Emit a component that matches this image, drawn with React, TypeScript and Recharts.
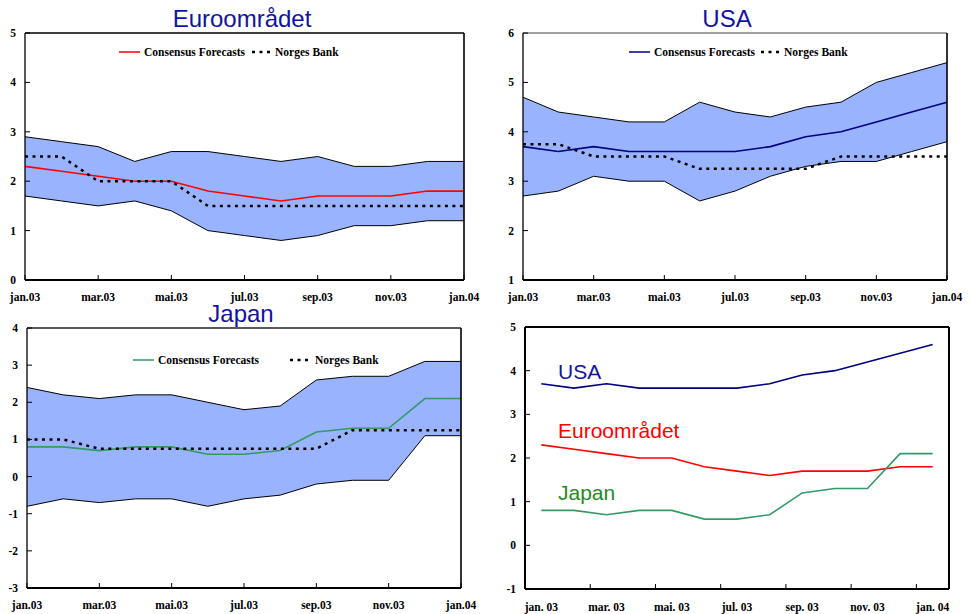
import React from 'react';
import { ComposedChart, Line, Area, XAxis, YAxis, ReferenceLine, Legend } from 'recharts';

// ---------- data ----------
const monthLabels = ['jan.03', 'feb.03', 'mar.03', 'apr.03', 'mai.03', 'jun.03', 'jul.03', 'aug.03', 'sep.03', 'okt.03', 'nov.03', 'des.03', 'jan.04'];
const monthLabelsSpaced = ['jan. 03', 'feb. 03', 'mar. 03', 'apr. 03', 'mai. 03', 'jun. 03', 'jul. 03', 'aug. 03', 'sep. 03', 'okt. 03', 'nov. 03', 'des. 03', 'jan. 04'];

const euroConsensus = [2.3, 2.2, 2.1, 2.0, 2.0, 1.8, 1.7, 1.6, 1.7, 1.7, 1.7, 1.8, 1.8];
const euroHigh = [2.9, 2.8, 2.7, 2.4, 2.6, 2.6, 2.5, 2.4, 2.5, 2.3, 2.3, 2.4, 2.4];
const euroLow = [1.7, 1.6, 1.5, 1.6, 1.4, 1.0, 0.9, 0.8, 0.9, 1.1, 1.1, 1.2, 1.2];
const euroNorges = [2.5, 2.5, 2.0, 2.0, 2.0, 1.5, 1.5, 1.5, 1.5, 1.5, 1.5, 1.5, 1.5];

const usaConsensus = [3.7, 3.6, 3.7, 3.6, 3.6, 3.6, 3.6, 3.7, 3.9, 4.0, 4.2, 4.4, 4.6];
const usaHigh = [4.7, 4.4, 4.3, 4.2, 4.2, 4.6, 4.4, 4.3, 4.5, 4.6, 5.0, 5.2, 5.4];
const usaLow = [2.7, 2.8, 3.1, 3.0, 3.0, 2.6, 2.8, 3.1, 3.3, 3.4, 3.4, 3.6, 3.8];
const usaNorges = [3.75, 3.75, 3.5, 3.5, 3.5, 3.25, 3.25, 3.25, 3.25, 3.5, 3.5, 3.5, 3.5];

const japanConsensus = [0.8, 0.8, 0.7, 0.8, 0.8, 0.6, 0.6, 0.7, 1.2, 1.3, 1.3, 2.1, 2.1];
const japanHigh = [2.4, 2.2, 2.1, 2.2, 2.2, 2.0, 1.8, 1.9, 2.6, 2.7, 2.7, 3.1, 3.1];
const japanLow = [-0.8, -0.6, -0.7, -0.6, -0.6, -0.8, -0.6, -0.5, -0.2, -0.1, -0.1, 1.1, 1.1];
const japanNorges = [1.0, 1.0, 0.75, 0.75, 0.75, 0.75, 0.75, 0.75, 0.75, 1.25, 1.25, 1.25, 1.25];

const euroTicks = [0, 1, 2, 3, 4, 5];
const usaTicks = [1, 2, 3, 4, 5, 6];
const japanTicks = [-3, -2, -1, 0, 1, 2, 3, 4];
const summaryTicks = [-1, 0, 1, 2, 3, 4, 5];
const bandXTicks = [0, 2, 4, 6, 8, 10, 12];
const summaryXTicks = [0, 1.5, 2, 3.5, 4, 5.5, 6, 7.5, 8, 9.5, 10, 11.5, 12];

const buildBand = (cons: number[], high: number[], low: number[], norges: number[]) =>
  cons.map((c, i) => ({ idx: i, cons: c, high: high[i], low: low[i], band: [low[i], high[i]], norges: norges[i] }));

const euroData = buildBand(euroConsensus, euroHigh, euroLow, euroNorges);
const usaData = buildBand(usaConsensus, usaHigh, usaLow, usaNorges);
const japanData = buildBand(japanConsensus, japanHigh, japanLow, japanNorges);
const summaryData = usaConsensus.map((u, i) => ({ idx: i, usa: u, euro: euroConsensus[i], japan: japanConsensus[i] }));

// ---------- style ----------
const SERIF = '"Liberation Serif", "Times New Roman", serif';
const SANS = '"Liberation Sans", Arial, sans-serif';
const BAND_FILL = '#99B3FF';
const TITLE_COLOR = '#1212A2';
const DOTS = '3 4.5';
const tickTextStyle: React.CSSProperties = { fontFamily: SERIF, fontWeight: 'bold', fontSize: 11.5 };

const X_MARGIN = 17;
const Y_MARGIN = 9;

function makeXTick(labels: string[], margin: number, mode: 'both' | 'split') {
  return (props: any) => {
    const { x, y, payload } = props;
    const v = Number(payload.value);
    const axisY = y - margin;
    const isInt = Number.isInteger(v);
    const showLabel = isInt;
    const showMark = mode === 'both' ? true : !isInt;
    return (
      <g>
        {showMark && <line x1={x} x2={x} y1={axisY} y2={axisY - 5} stroke="#000" strokeWidth={1} />}
        {showLabel && (
          <text x={x} y={y} dy="0.35em" textAnchor="middle" style={tickTextStyle} fill="#000">
            {labels[v]}
          </text>
        )}
      </g>
    );
  };
}

function makeYTick(side: 'left' | 'right') {
  return (props: any) => {
    const { x, y, payload } = props;
    const ax = side === 'left' ? x + Y_MARGIN : x - Y_MARGIN;
    const x2 = side === 'left' ? ax + 5 : ax - 5;
    return (
      <g>
        <line x1={ax} x2={x2} y1={y} y2={y} stroke="#000" strokeWidth={1} />
        <text x={x} y={y} dy="0.35em" textAnchor={side === 'left' ? 'end' : 'start'} style={tickTextStyle} fill="#000">
          {String(payload.value)}
        </text>
      </g>
    );
  };
}

function makeLegend(gap: number, secondTextGap: number) {
  return (props: any) => {
    const items = (props.payload || []).filter((p: any) => p.type !== 'none');
    items.sort((a: any, b: any) => (a.dataKey === 'cons' ? -1 : b.dataKey === 'cons' ? 1 : 0));
    return (
      <div style={{ display: 'flex', alignItems: 'center', whiteSpace: 'nowrap', fontFamily: SERIF, fontWeight: 'bold', fontSize: 11.5, lineHeight: '16px', color: '#000' }}>
        {items.map((it: any, i: number) => {
          const dotted = it.dataKey === 'norges';
          return (
            <div key={i} style={{ display: 'flex', alignItems: 'center', marginLeft: i === 0 ? 0 : gap }}>
              <svg width={21} height={6} style={{ marginRight: dotted ? secondTextGap : 4 }}>
                <line x1={0} x2={21} y1={3} y2={3} stroke={it.color} strokeWidth={dotted ? 2.5 : 1.5} strokeDasharray={dotted ? DOTS : undefined} />
              </svg>
              <span>{it.value}</span>
            </div>
          );
        })}
      </div>
    );
  };
}

type BandProps = {
  data: any[];
  width: number;
  height: number;
  top: number;
  leftW: number;
  rightW: number;
  xH: number;
  domain: [number, number];
  ticks: number[];
  color: string;
  topBorder: string;
  legendLeft: number;
  legendCy: number;
  legendGap: number;
  legendGap2: number;
};

function BandChart(p: BandProps) {
  return (
    <ComposedChart width={p.width} height={p.height} data={p.data} margin={{ top: p.top, right: 0, bottom: 0, left: 0 }}>
      <XAxis
        dataKey="idx"
        type="number"
        domain={[0, 12]}
        ticks={bandXTicks}
        interval={0}
        height={p.xH}
        tickSize={0}
        tickMargin={X_MARGIN}
        tickLine={false}
        axisLine={{ stroke: '#000', strokeWidth: 2 }}
        tick={makeXTick(monthLabels, X_MARGIN, 'both')}
      />
      <YAxis
        yAxisId="l"
        orientation="left"
        width={p.leftW}
        domain={p.domain}
        ticks={p.ticks}
        interval={0}
        tickSize={0}
        tickMargin={Y_MARGIN}
        tickLine={false}
        axisLine={{ stroke: '#000', strokeWidth: 1.3 }}
        tick={makeYTick('left')}
      />
      <YAxis
        yAxisId="r"
        orientation="right"
        width={p.rightW}
        domain={p.domain}
        ticks={p.ticks}
        interval={0}
        tickSize={0}
        tickMargin={Y_MARGIN}
        tickLine={false}
        axisLine={{ stroke: '#000', strokeWidth: 1.6 }}
        tick={makeYTick('right')}
      />
      <ReferenceLine yAxisId="l" y={p.domain[1]} stroke={p.topBorder} strokeWidth={1.3} />
      <Area yAxisId="l" dataKey="band" type="linear" fill={BAND_FILL} fillOpacity={1} stroke="none" legendType="none" isAnimationActive={false} />
      <Line yAxisId="l" dataKey="high" type="linear" stroke="#000" strokeWidth={1} dot={false} legendType="none" isAnimationActive={false} />
      <Line yAxisId="l" dataKey="low" type="linear" stroke="#000" strokeWidth={1} dot={false} legendType="none" isAnimationActive={false} />
      <Line yAxisId="l" dataKey="cons" name="Consensus Forecasts" type="linear" stroke={p.color} strokeWidth={1.6} dot={false} isAnimationActive={false} />
      <Line yAxisId="l" dataKey="norges" name="Norges Bank" type="linear" stroke="#000" strokeWidth={2.5} strokeDasharray={DOTS} dot={false} isAnimationActive={false} />
      <Legend
        layout="vertical"
        align="center"
        verticalAlign="middle"
        content={makeLegend(p.legendGap, p.legendGap2)}
        wrapperStyle={{ top: p.legendCy - 8, left: p.legendLeft, width: 'auto', height: 16 }}
      />
    </ComposedChart>
  );
}

const SUMMARY_X_MARGIN = 18;

function SummaryChart() {
  return (
    <ComposedChart width={485} height={314} data={summaryData} margin={{ top: 27, right: 0, bottom: 0, left: 0 }}>
      <XAxis
        dataKey="idx"
        type="number"
        domain={[-0.5, 12.5]}
        ticks={summaryXTicks}
        interval={0}
        height={25}
        tickSize={0}
        tickMargin={SUMMARY_X_MARGIN}
        tickLine={false}
        axisLine={{ stroke: '#000', strokeWidth: 2 }}
        tick={makeXTick(monthLabelsSpaced, SUMMARY_X_MARGIN, 'split')}
      />
      <YAxis yAxisId="l" orientation="left" width={40} domain={[-1, 5]} ticks={summaryTicks} interval={0} tickSize={0} tickMargin={Y_MARGIN} tickLine={false} axisLine={{ stroke: '#000', strokeWidth: 2 }} tick={makeYTick('left')} />
      <YAxis yAxisId="r" orientation="right" width={21} domain={[-1, 5]} ticks={summaryTicks} interval={0} tickSize={0} tickMargin={Y_MARGIN} tickLine={false} axisLine={{ stroke: '#000', strokeWidth: 2 }} tick={makeYTick('right')} />
      <ReferenceLine yAxisId="l" y={5} stroke="#000" strokeWidth={2} />
      <Line yAxisId="l" dataKey="usa" name="USA" type="linear" stroke="#000080" strokeWidth={1.6} dot={false} isAnimationActive={false} />
      <Line yAxisId="l" dataKey="euro" name="Euroområdet" type="linear" stroke="#FF0000" strokeWidth={1.6} dot={false} isAnimationActive={false} />
      <Line yAxisId="l" dataKey="japan" name="Japan" type="linear" stroke="#339966" strokeWidth={1.6} dot={false} isAnimationActive={false} />
    </ComposedChart>
  );
}

const titleStyle: React.CSSProperties = { fontFamily: SANS, fontSize: 24 };
const labelStyle: React.CSSProperties = { fontFamily: SANS, fontSize: 21 };

export default function App() {
  return (
    <div style={{ position: 'absolute', left: 0, top: 0, width: 970, height: 614, background: '#fff', overflow: 'hidden' }}>
      <div style={{ position: 'absolute', left: 0, top: 0 }}>
        <BandChart data={euroData} width={485} height={310} top={33} leftW={25} rightW={21} xH={30} domain={[0, 5]} ticks={euroTicks} color="#FF0000" topBorder="#000" legendLeft={119} legendCy={52} legendGap={7} legendGap2={2} />
      </div>
      <div style={{ position: 'absolute', left: 485, top: 0 }}>
        <BandChart data={usaData} width={485} height={310} top={33} leftW={38} rightW={23} xH={30} domain={[1, 6]} ticks={usaTicks} color="#000080" topBorder="#808080" legendLeft={144} legendCy={52} legendGap={6} legendGap2={2} />
      </div>
      <div style={{ position: 'absolute', left: 0, top: 300 }}>
        <BandChart data={japanData} width={485} height={314} top={28} leftW={27} rightW={24} xH={26} domain={[-3, 4]} ticks={japanTicks} color="#339966" topBorder="#222" legendLeft={133} legendCy={60} legendGap={31} legendGap2={4} />
      </div>
      <div style={{ position: 'absolute', left: 485, top: 300 }}>
        <SummaryChart />
      </div>
      <svg width={970} height={614} style={{ position: 'absolute', left: 0, top: 0, pointerEvents: 'none' }}>
        <text x={242} y={26.5} textAnchor="middle" style={titleStyle} fill={TITLE_COLOR}>Euroområdet</text>
        <text x={727} y={26.5} textAnchor="middle" style={titleStyle} fill={TITLE_COLOR}>USA</text>
        <text x={241} y={321.5} textAnchor="middle" style={titleStyle} fill={TITLE_COLOR}>Japan</text>
        <text x={558} y={379} style={labelStyle} fill="#141496">USA</text>
        <text x={558} y={438} style={labelStyle} fill="#FF0000">Euroområdet</text>
        <text x={558} y={500} style={labelStyle} fill="#1E8C1E">Japan</text>
      </svg>
    </div>
  );
}
